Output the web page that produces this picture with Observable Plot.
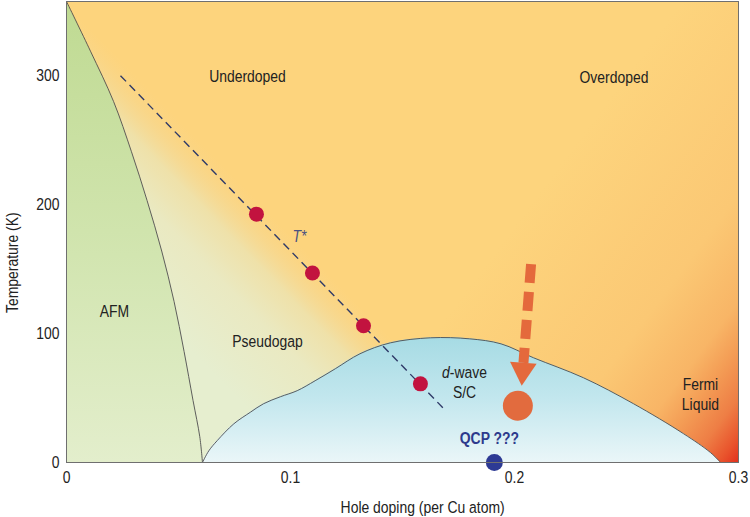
<!DOCTYPE html>
<html><head><meta charset="utf-8">
<script src="https://cdn.jsdelivr.net/npm/d3@7"></script>
<script src="https://cdn.jsdelivr.net/npm/@observablehq/plot@0.6"></script>
<style>
html,body{margin:0;padding:0;background:#fff;}
#chart svg{display:block;}
</style></head><body><div id="chart"></div>
<script>
const FONT = '"Liberation Sans", Arial, sans-serif';
const SQUEEZE = 0.82; // condensed look (Helvetica Condensed in the original)

// AFM (Néel) boundary
const afmDoping = [0, 0.0107, 0.021, 0.029, 0.036, 0.0425, 0.048, 0.0525, 0.0565, 0.0595, 0.0607];
const afmTemp   = [357.5, 319, 280, 241, 203, 164, 125, 86, 48, 20, 0];

// d-wave superconducting dome
const domeDoping = [0.0607, 0.0635, 0.0673, 0.0747, 0.0821, 0.088, 0.0955, 0.103, 0.111, 0.120, 0.131, 0.1446, 0.1625, 0.180, 0.194, 0.2085, 0.2308, 0.2531, 0.2754, 0.2875, 0.292];
const domeTemp   = [0, 9, 17, 30, 39, 45.6, 51, 55.7, 63.4, 72.7, 84.3, 92.8, 96.7, 95.9, 92, 81.2, 65.7, 45.6, 22.4, 7.7, 0];

// pseudogap region: soft edge (mid-fade line) and outer outline
const pgEdgeDoping = [-0.02, 0.14];
const pgEdgeTemp   = [366.9, 80.6];
const pgOuterDoping = [-0.02, 0.2];
const pgOuterTemp   = [400, 40];

// T* crossover line and measured points
const tstarLineDoping = [0.0241, 0.168];
const tstarLineTemp   = [300, 42.5];
const tstarPointDoping = [0.0848, 0.1098, 0.1326, 0.158];
const tstarPointTemp   = [192.6, 147, 106, 61];

// quantum critical points
const qcpDoping = [0.191];
const qcpTemp   = [0];
const fieldQcpDoping = [0.2015];
const fieldQcpTemp   = [44];

// dashed arrow (shaft) and head
const arrowDoping = [0.2074, 0.2040];
const arrowTemp   = [153.9, 77.3];
const arrowHeadDoping = [0.2037];
const arrowHeadTemp   = [71.4];

// ticks
const xTicks = [0, 0.1, 0.2, 0.3];
const xTickLabels = ["0", "0.1", "0.2", "0.3"];
const yTicks = [0, 100, 200, 300];

// region labels
const regionLabels = ["Underdoped", "Overdoped", "AFM", "Pseudogap", "d-wave", "S/C", "Fermi\nLiquid"];
const regionDoping = [0.0808, 0.2444, 0.0214, 0.0897, 0.1777, 0.1777, 0.283];
const regionTemp   = [300, 299, 117.5, 94.4, 70.4, 55, 53.3];

const tstarLabel = ["T*"];
const tstarLabelDoping = [0.104];
const tstarLabelTemp = [175.5];

const qcpLabel = ["QCP ???"];
const qcpLabelDoping = [0.1888];
const qcpLabelTemp = [18.3];

const xTitle = ["Hole doping (per Cu atom)"];
const xTitleDoping = [0.159];
const yTitle = ["Temperature (K)"];
const yTitleTemp = [155];

const zip = (xs, ys) => xs.map((x, i) => ({doping: x, temp: ys[i]}));
const afm = zip(afmDoping, afmTemp);
const dome = zip(domeDoping, domeTemp);
const pgOuter = zip(pgOuterDoping, pgOuterTemp);
const tstarLine = zip(tstarLineDoping, tstarLineTemp);
const tstarPts = zip(tstarPointDoping, tstarPointTemp);
const qcp = zip(qcpDoping, qcpTemp);
const fieldQcp = zip(fieldQcpDoping, fieldQcpTemp);
const arrow = zip(arrowDoping, arrowTemp);
const arrowHead = zip(arrowHeadDoping, arrowHeadTemp);
const labels = regionLabels.map((t, i) => ({text: t, doping: regionDoping[i], temp: regionTemp[i]}));

const chart = Plot.plot({
  width: 750,
  height: 517,
  marginLeft: 66,
  marginRight: 12,
  marginTop: 1,
  marginBottom: 55,
  style: {fontFamily: FONT, fontSize: "17px", color: "#222", background: "#fff"},
  x: {domain: [0, 0.3], ticks: xTicks, tickFormat: d => xTickLabels[xTicks.indexOf(d)], tickSize: 0, tickPadding: 8, label: null},
  y: {domain: [0, 357.5], ticks: yTicks, tickSize: 0, tickPadding: 7, label: null},
  marks: [
    Plot.frame({fill: "url(#bgGrad)", stroke: "none"}),
    Plot.areaY(pgOuter, {x: "doping", y1: -10, y2: "temp", fill: "url(#pgGrad)"}),
    Plot.areaX(afm, {x: "doping", y: "temp", curve: "catmull-rom", fill: "url(#afmGrad)"}),
    Plot.areaY(dome, {x: "doping", y: "temp", curve: "catmull-rom", fill: "url(#domeGrad)"}),
    Plot.line(afm, {x: "doping", y: "temp", curve: "catmull-rom", stroke: "#4d4d4d", strokeWidth: 0.9}),
    Plot.line(dome, {x: "doping", y: "temp", curve: "catmull-rom", stroke: "#4d4d4d", strokeWidth: 0.9}),
    Plot.line(tstarLine, {x: "doping", y: "temp", stroke: "#2f3a68", strokeWidth: 1.4, strokeDasharray: "8,5", strokeLinecap: "butt"}),
    Plot.dot(tstarPts, {x: "doping", y: "temp", r: 7.5, fill: "#c2133f"}),
    Plot.dot(qcp, {x: "doping", y: "temp", r: 8.5, fill: "#2d3a94"}),
    Plot.dot(fieldQcp, {x: "doping", y: "temp", r: 15, fill: "#e26b3e"}),
    Plot.line(arrow, {x: "doping", y: "temp", stroke: "#e4693c", strokeWidth: 10, strokeDasharray: "19,9", strokeLinecap: "butt"}),
    Plot.dot(arrowHead, {x: "doping", y: "temp", symbol: "triangle", r: 9.9, rotate: 184, fill: "#e4693c"}),
    Plot.text(labels, {x: "doping", y: "temp", text: "text", fontSize: 17, fill: "#222", lineHeight: 1.18}),
    Plot.text(tstarLabel, {x: tstarLabelDoping, y: tstarLabelTemp, text: d => d, fontSize: 17, fontStyle: "italic", fill: "#4a5280"}),
    Plot.text(qcpLabel, {x: qcpLabelDoping, y: qcpLabelTemp, text: d => d, fontSize: 17, fontWeight: "bold", fill: "#2d3a8c"}),
    Plot.text(xTitle, {x: xTitleDoping, frameAnchor: "bottom", dy: 45, textAnchor: "middle", lineAnchor: "middle", text: d => d, fontSize: 17, fill: "#222"}),
    Plot.text(yTitle, {y: yTitleTemp, frameAnchor: "left", dx: -54, rotate: -90, textAnchor: "middle", lineAnchor: "middle", text: d => d, fontSize: 17, fill: "#222"}),
    Plot.frame({stroke: "#6f6f6f", strokeWidth: 1})
  ]
});

// gradients and clip, positioned in screen space from the chart's scales
const sx = chart.scale("x"), sy = chart.scale("y");
const X = v => sx.apply(v), Y = v => sy.apply(v);
const [x0, x1] = sx.range, [y0, y1] = sy.range;

// pseudogap fade runs perpendicular to its T*-parallel edge
const P1 = [X(pgEdgeDoping[0]), Y(pgEdgeTemp[0])], P2 = [X(pgEdgeDoping[1]), Y(pgEdgeTemp[1])];
const len = Math.hypot(P2[0] - P1[0], P2[1] - P1[1]);
const dir = [(P2[0] - P1[0]) / len, (P2[1] - P1[1]) / len];
const nrm = [dir[1], -dir[0]]; // toward the orange (upper-right) side
const M = [(P1[0] + P2[0]) / 2, (P1[1] + P2[1]) / 2];
const inside = 130, outside = 22, total = inside + outside;
const S = [M[0] - nrm[0] * inside, M[1] - nrm[1] * inside];
const E = [M[0] + nrm[0] * outside, M[1] + nrm[1] * outside];
const off = s => ((s + inside) / total).toFixed(3);

const defs = `
<linearGradient id="bgGrad" gradientUnits="userSpaceOnUse" x1="${X(0.185)}" y1="${Y(149)}" x2="${X(0.3)}" y2="${Y(0)}">
  <stop offset="0" stop-color="#fdd47d"/>
  <stop offset="0.5" stop-color="#fbc874"/>
  <stop offset="0.7" stop-color="#f8b566"/>
  <stop offset="0.78" stop-color="#f49e56"/>
  <stop offset="0.88" stop-color="#ee7e45"/>
  <stop offset="0.95" stop-color="#e9552d"/>
  <stop offset="1" stop-color="#e2301d"/>
</linearGradient>
<linearGradient id="pgGrad" gradientUnits="userSpaceOnUse" x1="${S[0]}" y1="${S[1]}" x2="${E[0]}" y2="${E[1]}">
  <stop offset="0" stop-color="#e6eecf"/>
  <stop offset="${off(-60)}" stop-color="#eae9c1"/>
  <stop offset="${off(-22)}" stop-color="#efe1a9" stop-opacity="1"/>
  <stop offset="${off(0)}" stop-color="#f4da98" stop-opacity="0.55"/>
  <stop offset="1" stop-color="#f8d68c" stop-opacity="0"/>
</linearGradient>
<linearGradient id="afmGrad" x1="0" y1="0" x2="0" y2="1">
  <stop offset="0" stop-color="#bfda92"/>
  <stop offset="0.5" stop-color="#d0e4ad"/>
  <stop offset="1" stop-color="#e3eecc"/>
</linearGradient>
<linearGradient id="domeGrad" x1="0" y1="0" x2="0" y2="1">
  <stop offset="0" stop-color="#a6dbe4"/>
  <stop offset="0.5" stop-color="#c3e7ee"/>
  <stop offset="1" stop-color="#eaf6f8"/>
</linearGradient>
<clipPath id="plotClip"><rect x="${Math.min(x0, x1)}" y="${Math.min(y0, y1)}" width="${Math.abs(x1 - x0)}" height="${Math.abs(y1 - y0)}"/></clipPath>`;
const defsEl = document.createElementNS("http://www.w3.org/2000/svg", "defs");
defsEl.innerHTML = defs;
chart.insertBefore(defsEl, chart.firstChild);
chart.querySelectorAll('[fill="url(#pgGrad)"]').forEach(el => el.setAttribute("clip-path", "url(#plotClip)"));

// italic "d" in "d-wave"
d3.select(chart).selectAll("text").each(function() {
  if (this.textContent === "d-wave") {
    this.textContent = "";
    const s = d3.select(this);
    s.append("tspan").attr("font-style", "italic").text("d");
    s.append("tspan").text("-wave");
  }
});

// condensed lettering
d3.select(chart).selectAll("text").each(function() {
  const t = this.getAttribute("transform") || "";
  const x = this.getAttribute("x");
  if (x != null && x !== "" && !isNaN(+x)) this.setAttribute("x", +x / SQUEEZE);
  this.setAttribute("transform", (t + ` scale(${SQUEEZE},1)`).trim());
});

document.getElementById("chart").appendChild(chart);
</script>
</body></html>
